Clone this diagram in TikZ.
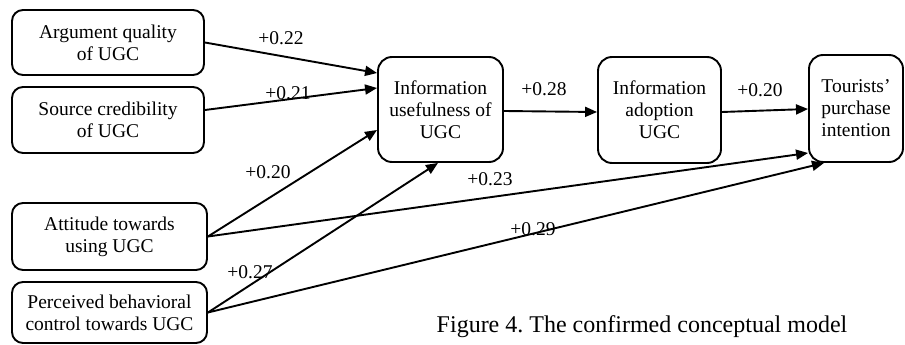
\documentclass[tikz,border=0pt]{standalone}
\usepackage{fontspec}
\setmainfont{Liberation Serif}
\usetikzlibrary{arrows.meta}
\frenchspacing
\begin{document}
\begin{tikzpicture}[x=1pt,y=-1pt,
  box/.style={draw, line width=1.9pt, rounded corners=11pt, inner sep=0pt,
    align=center, font=\fontsize{19.5}{22}\selectfont},
  coef/.style={inner sep=0pt, font=\fontsize{19.5}{22}\selectfont},
  link/.style={line width=1.9pt, -{Triangle[length=12pt,width=10pt]}}]
\useasboundingbox (0,0) rectangle (905,345);
\clip (0,0) rectangle (905,345);

% constructs
\node[box, minimum width=192pt, minimum height=65pt] (aq) at (108,42.5) {Argument quality\\of UGC};
\node[box, minimum width=192pt, minimum height=66pt] (sc) at (108,120) {Source credibility\\of UGC};
\node[box, minimum width=195pt, minimum height=67pt] (at) at (109.5,236.5) {Attitude towards\\using UGC};
\node[box, minimum width=195pt, minimum height=61pt] (pb) at (109.5,312.5) {Perceived behavioral\\control towards UGC};
\node[box, minimum width=125pt, minimum height=105pt, rounded corners=14pt] (iu) at (440.5,109.5) {Information\\usefulness of\\UGC};
\node[box, minimum width=123pt, minimum height=106pt, rounded corners=14pt] (ia) at (659.5,110) {Information\\adoption\\UGC};
\node[box, minimum width=94pt, minimum height=107pt, rounded corners=14pt] (tp) at (856,108.5) {Tourists’\\purchase\\intention};

% paths
\draw[link] (aq.east) -- ([yshift=36.5pt]iu.west);
\draw[link] ([yshift=10pt]sc.east) -- ([yshift=21.5pt]iu.west);
\draw[link] (at.east) -- ([yshift=-20.5pt]iu.west);
\draw[link] (at.east) -- ([yshift=-44.5pt]tp.west);
\draw[link] (pb.east) -- ([xshift=-2.5pt]iu.south);
\draw[link] (pb.east) -- ([xshift=-32pt]tp.south);
\draw[link] ([yshift=-1.5pt]iu.east) -- ([yshift=-2pt]ia.west);
\draw[link] ([yshift=-2pt]ia.east) -- ([yshift=-0.5pt]tp.west);

% path coefficients
\node[coef] (c1) at (281,38) {+0.22};
\node[coef] (c2) at (288,93) {+0.21};
\node[coef] (c3) at (268,172) {+0.20};
\node[coef] (c4) at (250,272) {+0.27};
\node[coef] (c5) at (490,179) {+0.23};
\node[coef] (c6) at (533,229) {+0.29};
\node[coef] (c7) at (544,89) {+0.28};
\node[coef] (c8) at (760,90) {+0.20};

% caption
\node[inner sep=0pt, font=\fontsize{24}{28}\selectfont] (cap) at (642,327) {Figure 4. The confirmed conceptual model};
\end{tikzpicture}
\end{document}
